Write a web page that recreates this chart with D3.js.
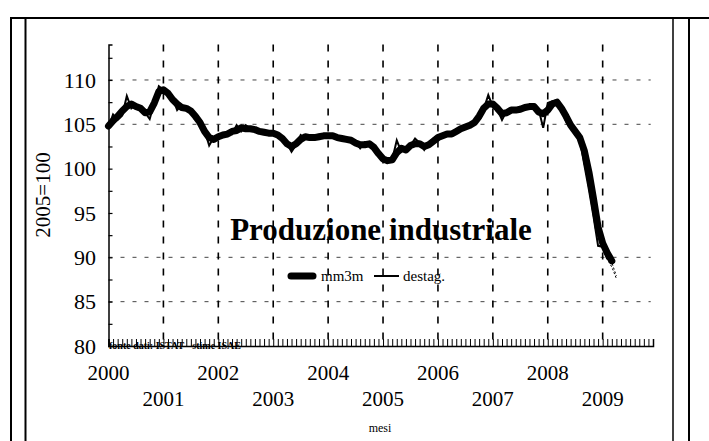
<!DOCTYPE html>
<html>
<head>
<meta charset="utf-8">
<script src="https://cdn.jsdelivr.net/npm/d3@7"></script>
<style>
  body { margin: 0; background: #fff; }
  svg { display: block; }
  text { font-family: "Liberation Serif", "Times New Roman", serif; fill: #000; }
</style>
</head>
<body>
<div class="chart"></div>
<script>
// monthly index, seasonally adjusted (2005=100), from Jan 2000
var destag = [
  104.7, 106.1, 105.5, 106.0, 108.2, 106.8, 107.2, 106.7, 106.3, 105.6, 107.4, 109.3,
  108.9, 108.6, 108.0, 106.6, 107.2, 106.8, 106.5, 106.0, 105.2, 104.3, 102.6, 103.5,
  103.7, 103.7, 104.0, 103.9, 104.9, 104.2, 104.9, 104.5, 104.3, 104.3, 104.0, 104.0,
  104.0, 103.8, 103.4, 102.9, 101.9, 102.7, 103.8, 103.4, 103.6, 103.4, 103.8, 103.6,
  103.8, 103.8, 103.4, 103.3, 103.3, 103.2, 103.0, 102.3, 103.0, 102.9, 102.6, 101.5,
  101.0, 100.8, 101.0, 103.2, 101.9, 102.3, 102.6, 103.4, 102.9, 102.1, 102.9, 103.4,
  103.4, 103.9, 103.8, 103.9, 104.1, 104.6, 104.8, 104.8, 105.2, 105.9, 106.7, 108.3,
  107.0, 106.7, 105.5, 106.5, 106.8, 106.5, 106.7, 106.9, 107.2, 107.2, 106.7, 104.6,
  107.4, 107.6, 107.7, 107.0, 105.3, 104.6, 104.1, 103.3, 100.4, 97.6, 94.6, 91.3,
  91.2, 89.8
];

// 3-month moving average, from Jan 2000
var mm3m = [
  104.8, 105.4, 105.9, 106.5, 107.0, 107.3, 107.0, 106.8, 106.3, 106.4, 107.4, 108.7,
  108.9, 108.5, 107.8, 107.3, 106.9, 106.8, 106.5, 105.9, 105.2, 104.2, 103.5, 103.3,
  103.6, 103.8, 103.9, 104.2, 104.3, 104.6, 104.5, 104.5, 104.4, 104.2, 104.1, 104.0,
  104.0, 103.8, 103.4, 102.8, 102.5, 102.8, 103.3, 103.6, 103.5, 103.5, 103.6, 103.7,
  103.7, 103.7, 103.5, 103.4, 103.3, 103.2, 102.9, 102.7, 102.7, 102.8, 102.4, 101.7,
  101.1, 100.9, 101.0, 101.8, 102.3, 102.1, 102.6, 102.8, 102.8, 102.5, 102.7, 103.1,
  103.5, 103.7, 103.9, 103.9, 104.2, 104.5, 104.7, 104.9, 105.2, 105.9, 106.8, 107.3,
  107.3, 106.8, 106.2, 106.3, 106.6, 106.6, 106.7, 106.9, 107.0, 107.0, 106.4, 106.2,
  106.6, 107.3, 107.5, 106.8, 105.9, 104.9, 104.2, 103.5, 102.0, 99.6, 96.6, 93.4,
  91.6, 90.5, 89.6
];

// ISAE estimates (month index, value)
var stimeA = [[108, 91.2], [109, 89.8], [110, 88.9], [111, 87.6]];
var stimeB = [[109, 90.5], [110, 89.4], [111, 87.9]];

var years = [2000, 2001, 2002, 2003, 2004, 2005, 2006, 2007, 2008, 2009];
var yTicks = [80, 85, 90, 95, 100, 105, 110];
var yGrid = [110, 105, 90, 85];
var legendItems = ["mm3m", "destag."];

var svgWidth = 709;
var svgHeight = 441;

var svg = d3.select(".chart")
  .append("svg")
  .attr("width", svgWidth)
  .attr("height", svgHeight);

// page frame
var frame = svg.append("g").attr("stroke", "#000").attr("fill", "none");
frame.append("line").attr("x1", 11).attr("x2", 11).attr("y1", 17).attr("y2", 441).attr("stroke-width", 2);
frame.append("line").attr("x1", 25.5).attr("x2", 25.5).attr("y1", 18).attr("y2", 441).attr("stroke-width", 2);
frame.append("line").attr("x1", 10).attr("x2", 709).attr("y1", 18).attr("y2", 18).attr("stroke-width", 2);
frame.append("line").attr("x1", 673).attr("x2", 673).attr("y1", 18).attr("y2", 441).attr("stroke-width", 1.5);
frame.append("line").attr("x1", 689).attr("x2", 689).attr("y1", 18).attr("y2", 441).attr("stroke-width", 2);

// scales (x is month index from Jan 2000)
var xScale = d3.scaleLinear().domain([0, 119]).range([108.5, 653]);
var yScale = d3.scaleLinear().domain([80, 114]).range([346, 44.5]);

var chartGroup = svg.append("g");

// horizontal grid
chartGroup.selectAll(".hgrid")
  .data(yGrid)
  .enter()
  .append("line")
  .attr("x1", xScale(0))
  .attr("x2", xScale(118.5))
  .attr("y1", d => yScale(d))
  .attr("y2", d => yScale(d))
  .attr("stroke", "#444")
  .attr("stroke-width", 1)
  .attr("stroke-dasharray", "4,8");

// vertical dashed year lines
chartGroup.selectAll(".vgrid")
  .data(years.slice(1))
  .enter()
  .append("line")
  .attr("x1", d => xScale((d - 2000) * 12))
  .attr("x2", d => xScale((d - 2000) * 12))
  .attr("y1", yScale(114))
  .attr("y2", yScale(80))
  .attr("stroke", "#000")
  .attr("stroke-width", 1.6)
  .attr("stroke-dasharray", "7,9");

// y axis
var yAxis = d3.axisRight(yScale)
  .tickValues(d3.range(80, 114, 2.5))
  .tickSize(4)
  .tickFormat("");
chartGroup.append("g")
  .attr("transform", `translate(${xScale(0)},0)`)
  .call(yAxis)
  .call(g => g.select(".domain").attr("stroke-width", 1.5))
  .call(g => g.selectAll(".tick line").attr("stroke-width", 1.2));

chartGroup.selectAll(".ylabel")
  .data(yTicks)
  .enter()
  .append("text")
  .attr("x", 96)
  .attr("y", d => yScale(d))
  .attr("dy", "0.35em")
  .attr("text-anchor", "end")
  .style("font-size", "22px")
  .text(d => d);

// x axis: a tick for every month
var xAxis = d3.axisTop(xScale)
  .tickValues(d3.range(0, 120))
  .tickSize(7)
  .tickFormat("");
chartGroup.append("g")
  .attr("transform", `translate(0,${yScale(80)})`)
  .call(xAxis)
  .call(g => g.select(".domain").attr("stroke-width", 1.5))
  .call(g => g.selectAll(".tick line").attr("stroke-width", 1));

chartGroup.selectAll(".xlabel")
  .data(years)
  .enter()
  .append("text")
  .attr("x", d => xScale((d - 2000) * 12))
  .attr("y", (d, i) => i % 2 === 0 ? 380 : 406)
  .attr("text-anchor", "middle")
  .style("font-size", "21px")
  .text(d => d);

svg.append("text")
  .attr("x", 380)
  .attr("y", 432)
  .attr("text-anchor", "middle")
  .style("font-size", "12px")
  .text("mesi");

svg.append("text")
  .attr("transform", "translate(50,195) rotate(-90)")
  .attr("text-anchor", "middle")
  .style("font-size", "21px")
  .text("2005=100");

svg.append("text")
  .attr("x", 109)
  .attr("y", 349)
  .style("font-size", "10px")
  .style("font-weight", "bold")
  .text("fonte dati: ISTAT - stime ISAE");

// lines
var line = d3.line()
  .x((d, i) => xScale(i))
  .y(d => yScale(d));

var lineXY = d3.line()
  .x(d => xScale(d[0]))
  .y(d => yScale(d[1]));

chartGroup.append("path")
  .datum(mm3m)
  .attr("d", line)
  .attr("fill", "none")
  .attr("stroke", "#000")
  .attr("stroke-width", 7)
  .attr("stroke-linejoin", "round")
  .attr("stroke-linecap", "round");

chartGroup.append("path")
  .datum(destag)
  .attr("d", line)
  .attr("fill", "none")
  .attr("stroke", "#000")
  .attr("stroke-width", 2);

[stimeA, stimeB].forEach(function(s) {
  chartGroup.append("path")
    .datum(s)
    .attr("d", lineXY)
    .attr("fill", "none")
    .attr("stroke", "#000")
    .attr("stroke-width", 1)
    .attr("stroke-dasharray", "2,2");
});

// title
svg.append("text")
  .attr("x", 381)
  .attr("y", 240)
  .attr("text-anchor", "middle")
  .style("font-size", "31px")
  .style("font-weight", "bold")
  .text("Produzione industriale");

// legend
var legend = svg.append("g");
legend.append("line")
  .attr("x1", 291).attr("x2", 313).attr("y1", 276).attr("y2", 276)
  .attr("stroke", "#000").attr("stroke-width", 7).attr("stroke-linecap", "round");
legend.append("text")
  .attr("x", 321).attr("y", 281)
  .style("font-size", "15px")
  .text(legendItems[0]);
legend.append("line")
  .attr("x1", 374).attr("x2", 399).attr("y1", 276).attr("y2", 276)
  .attr("stroke", "#000").attr("stroke-width", 2);
legend.append("text")
  .attr("x", 403).attr("y", 281)
  .style("font-size", "15px")
  .text(legendItems[1]);
</script>
</body>
</html>
